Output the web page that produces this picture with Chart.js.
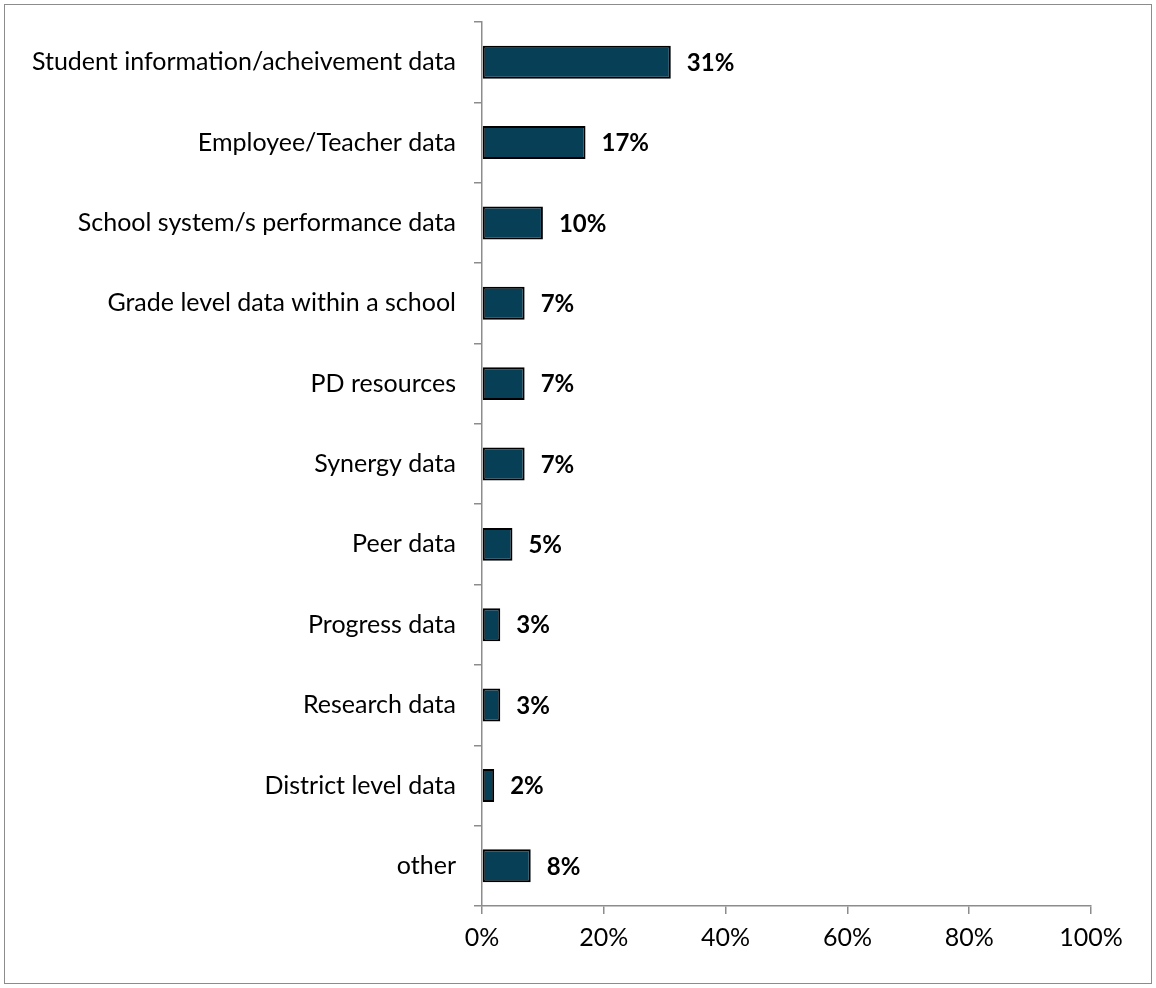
<!DOCTYPE html>
<html>
<head>
<meta charset="utf-8">
<script src="https://cdn.jsdelivr.net/npm/chart.js@4.4.1/dist/chart.umd.min.js"></script>
<style>
  html, body { margin: 0; padding: 0; background: #fff; }
  #wrap { width: 1156px; height: 988px; position: relative; }
</style>
</head>
<body>
<div id="wrap"><canvas id="dataChart" width="1156" height="988"></canvas></div>
<script>
// Tipos de datos usados
const categories = [
    'Student information/acheivement data',
    'Employee/Teacher data',
    'School system/s performance data',
    'Grade level data within a school',
    'PD resources',
    'Synergy data',
    'Peer data',
    'Progress data',
    'Research data',
    'District level data',
    'other'
];
const percents = [31, 17, 10, 7, 7, 7, 5, 3, 3, 2, 8];
const xTicks = [0, 20, 40, 60, 80, 100];

const FONT = "Lato, 'Open Sans', sans-serif";

// Marco gris alrededor de todo el gráfico
const frame = {
    id: 'frame',
    beforeDraw(chart) {
        const ctx = chart.ctx;
        ctx.save();
        ctx.fillStyle = '#fff';
        ctx.fillRect(0, 0, chart.width, chart.height);
        ctx.strokeStyle = '#8c8c8c';
        ctx.lineWidth = 1;
        ctx.strokeRect(4.5, 4.5, chart.width - 9, chart.height - 9);
        ctx.restore();
    }
};

// Porcentaje en negrita al final de cada barra
const valueLabels = {
    id: 'valueLabels',
    afterDatasetsDraw(chart) {
        const ctx = chart.ctx;
        const meta = chart.getDatasetMeta(0);
        ctx.save();
        ctx.font = 'bold 24px ' + FONT;
        ctx.fillStyle = '#000';
        ctx.textAlign = 'left';
        ctx.textBaseline = 'middle';
        meta.data.forEach((bar, i) => {
            ctx.fillText(percents[i] + '%', bar.x + 16, bar.y + 1);
        });
        ctx.restore();
    }
};

new Chart(document.getElementById('dataChart'), {
    type: 'bar',
    data: {
        labels: categories,
        datasets: [{
            data: percents,
            backgroundColor: '#073f56',
            borderColor: '#000',
            borderWidth: 2,
            borderSkipped: false,
            barPercentage: 0.41,
            categoryPercentage: 1
        }]
    },
    options: {
        indexAxis: 'y',
        responsive: false,
        animation: false,
        layout: { padding: { top: 22, right: 65, bottom: 0, left: 0 } },
        plugins: {
            legend: { display: false },
            tooltip: { enabled: false }
        },
        scales: {
            x: {
                min: 0,
                max: 100,
                afterFit(scale) {
                    scale.height = 82;
                    scale.paddingLeft = 0;
                    scale.paddingRight = 0;
                },
                afterBuildTicks(scale) { scale.ticks = xTicks.map(v => ({ value: v })); },
                border: { color: '#8c8c8c', width: 1.5 },
                grid: { drawOnChartArea: false, drawTicks: true, tickLength: 8, color: '#8c8c8c', lineWidth: 1.5 },
                ticks: {
                    color: '#000',
                    font: { family: FONT, size: 25 },
                    padding: 9,
                    callback: v => v + '%'
                }
            },
            y: {
                afterFit(scale) {
                    scale.width = 482;
                    scale.paddingTop = 0;
                    scale.paddingBottom = 0;
                },
                border: { color: '#8c8c8c', width: 1.5 },
                grid: { drawOnChartArea: false, drawTicks: true, tickLength: 8, color: '#8c8c8c', lineWidth: 1.5, offset: true },
                ticks: {
                    color: '#000',
                    font: { family: FONT, size: 25 },
                    padding: 18
                }
            }
        }
    },
    plugins: [frame, valueLabels]
});
</script>
</body>
</html>
